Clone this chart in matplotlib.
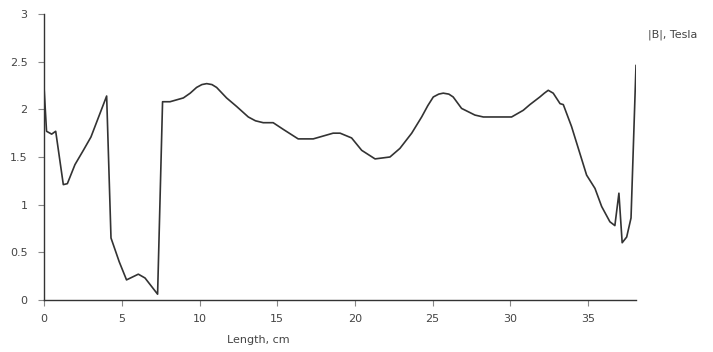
# Magnitude of the magnetic field |B| along the length of the sample
import numpy as np
import matplotlib.pyplot as plt

# Position along the sample, cm
length_cm = [0.0, 0.15, 0.48, 0.74, 1.23, 1.49, 1.98, 2.52, 3.01, 4.02,
             4.30, 4.83, 5.30, 6.06, 6.49, 7.30, 7.62, 8.10, 8.96, 9.40,
             9.81, 10.15, 10.46, 10.80, 11.10, 11.74, 12.39, 13.14, 13.60, 14.10,
             14.74, 15.39, 16.35, 17.32, 17.96, 18.60, 19.05, 19.79, 20.44, 21.30,
             22.26, 22.90, 23.66, 24.30, 24.70, 25.05, 25.40, 25.69, 26.05, 26.33,
             26.87, 27.73, 28.27, 30.09, 30.84, 31.27, 31.91, 32.20, 32.45, 32.77,
             33.21, 33.42, 33.95, 34.92, 35.46, 35.89, 36.42, 36.74, 37.00, 37.21,
             37.50, 37.78, 38.10]

# |B|, Tesla
b_tesla = [2.20, 1.77, 1.74, 1.77, 1.21, 1.22, 1.42, 1.57, 1.71, 2.14,
           0.65, 0.40, 0.21, 0.27, 0.23, 0.06, 2.08, 2.08, 2.12, 2.17,
           2.23, 2.26, 2.27, 2.26, 2.23, 2.12, 2.03, 1.92, 1.88, 1.86,
           1.86, 1.79, 1.69, 1.69, 1.72, 1.75, 1.75, 1.70, 1.57, 1.48,
           1.50, 1.59, 1.75, 1.92, 2.04, 2.13, 2.16, 2.17, 2.16, 2.13,
           2.01, 1.94, 1.92, 1.92, 1.99, 2.05, 2.13, 2.17, 2.20, 2.17,
           2.06, 2.05, 1.82, 1.31, 1.17, 0.98, 0.82, 0.78, 1.12, 0.60,
           0.66, 0.86, 2.46]

x_ticks = [0, 5, 10, 15, 20, 25, 30, 35]
y_ticks = [0, 0.5, 1, 1.5, 2, 2.5, 3]
y_tick_labels = ['0', '0.5', '1', '1.5', '2', '2.5', '3']

text_color = '#444444'

fig = plt.figure(figsize=(7.13, 3.52), dpi=100)
ax = fig.add_axes([0.062, 0.148, 0.830, 0.812])

ax.plot(length_cm, b_tesla, color='#333333', linewidth=1.2)

ax.set_xlim(0, 38.1)
ax.set_ylim(0, 3)
ax.set_xticks(x_ticks)
ax.set_yticks(y_ticks)
ax.set_yticklabels(y_tick_labels)

# Only the left and bottom axis lines are drawn
ax.spines['top'].set_visible(False)
ax.spines['right'].set_visible(False)
ax.spines['left'].set_color('#333333')
ax.spines['bottom'].set_color('#333333')
ax.spines['left'].set_linewidth(1.0)
ax.spines['bottom'].set_linewidth(1.0)
ax.tick_params(direction='out', length=4, width=0.8, color='#888888',
               labelsize=8, labelcolor=text_color)
ax.tick_params(axis='y', pad=8)
ax.tick_params(axis='x', pad=6)

# Axis captions sit outside the axes
fig.text(258 / 713, 1 - 340 / 352, 'Length, cm', ha='center', va='center',
         fontsize=8, color=text_color)
fig.text(648 / 713, 1 - 35 / 352, '|B|, Tesla', ha='left', va='center',
         fontsize=8, color=text_color)

plt.savefig('out.png', dpi=100)
